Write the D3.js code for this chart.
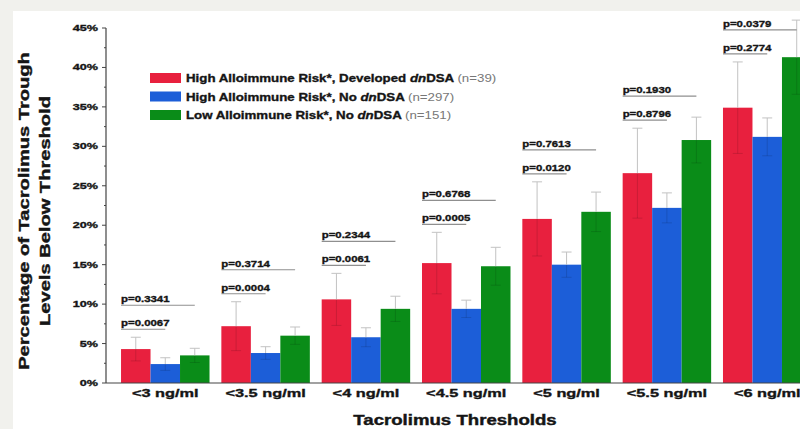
<!DOCTYPE html>
<html>
<head>
<meta charset="utf-8">
<script src="https://cdn.jsdelivr.net/npm/d3@7"></script>
<style>
  html, body { margin: 0; padding: 0; background: #f1f1ed; }
  svg { display: block; }
  text { font-family: "Liberation Sans", Arial, sans-serif; }
</style>
</head>
<body>
<svg id="chart" width="800" height="429"></svg>
<script>
// Tacrolimus threshold categories
const categories = ["<3 ng/ml", "<3.5 ng/ml", "<4 ng/ml", "<4.5 ng/ml", "<5 ng/ml", "<5.5 ng/ml", "<6 ng/ml"];

// Mean % of trough levels below each threshold
const developedDnDSA = [4.3, 7.2, 10.6, 15.2, 20.8, 26.6, 34.9];
const highRiskNoDSA  = [2.4, 3.8, 5.8, 9.4, 15.0, 22.2, 31.2];
const lowRiskNoDSA   = [3.5, 6.0, 9.4, 14.8, 21.7, 30.8, 41.3];

// Standard errors
const developedErr = [1.5, 3.1, 3.3, 3.9, 4.7, 5.7, 5.8];
const highRiskErr  = [0.8, 0.8, 1.2, 1.1, 1.6, 1.9, 2.4];
const lowRiskErr   = [0.9, 1.1, 1.6, 2.4, 2.5, 2.9, 4.7];

// p-values: three-group comparison (upper) and high-risk dnDSA vs no dnDSA (lower)
const pThreeGroup = ["0.3341", "0.3714", "0.2344", "0.6768", "0.7613", "0.1930", "0.0379"];
const pHighRisk   = ["0.0067", "0.0004", "0.0061", "0.0005", "0.0120", "0.8796", "0.2774"];

// Axis ticks
const yTicks = [0, 5, 10, 15, 20, 25, 30, 35, 40, 45];
const yMinorTicks = [2.5, 7.5, 12.5, 17.5, 22.5, 27.5, 32.5, 37.5, 42.5];

const seriesNames = ["dev", "high", "low"];
const seriesColors = ["#e8203e", "#1c5ed8", "#0a8c18"];
const legendMain = ["High Alloimmune Risk*, Developed ", "High Alloimmune Risk*, No ", "Low Alloimmune Risk*, No "];
const legendN = ["(n=39)", "(n=297)", "(n=151)"];

const svg = d3.select("#chart");

// white plotting panel
svg.append("rect").attr("x", 13).attr("y", 11).attr("width", 800).attr("height", 430).attr("fill", "#ffffff");

const x = d3.scaleBand().domain(categories).range([111, 821.5]).paddingInner(0.118).paddingOuter(0.1);
const xs = d3.scaleBand().domain(seriesNames).range([0, x.bandwidth()]);
const y = d3.scaleLinear().domain([0, 45]).range([383, 28]);

const rows = categories.map((c, i) => ({
  cat: c,
  vals: [
    { s: "dev",  v: developedDnDSA[i], e: developedErr[i] },
    { s: "high", v: highRiskNoDSA[i],  e: highRiskErr[i] },
    { s: "low",  v: lowRiskNoDSA[i],   e: lowRiskErr[i] }
  ],
  p3: pThreeGroup[i],
  p2: pHighRisk[i]
}));

// helper: horizontally widened, heavy text
function wideText(g, str, tx, ty, sx, opts) {
  const fill = opts.fill || "#151515";
  return g.append("text")
    .attr("transform", `translate(${tx},${ty}) scale(${sx},1)`)
    .attr("text-anchor", opts.anchor || "start")
    .attr("font-size", opts.size)
    .attr("font-weight", opts.weight || "bold")
    .attr("fill", fill)
    .attr("stroke", fill)
    .attr("stroke-width", opts.stroke == null ? 0.35 : opts.stroke)
    .text(str);
}

// bars
const groups = svg.append("g").selectAll("g").data(rows).join("g")
  .attr("transform", d => `translate(${x(d.cat)},0)`);

groups.selectAll("rect").data(d => d.vals).join("rect")
  .attr("x", d => xs(d.s))
  .attr("y", d => y(d.v))
  .attr("width", xs.bandwidth())
  .attr("height", d => y(0) - y(d.v))
  .attr("fill", (d, i) => seriesColors[i]);

// error bars: upper half light grey above the bar, lower half faint inside it
const cx = d => xs(d.s) + xs.bandwidth() / 2;
const eb = groups.selectAll("g.err").data(d => d.vals).join("g").attr("class", "err")
  .attr("stroke-width", 1);
eb.append("line").attr("stroke", "#c2c2c2")
  .attr("x1", cx).attr("x2", cx).attr("y1", d => y(d.v)).attr("y2", d => y(d.v + d.e));
eb.append("line").attr("stroke", "#c2c2c2")
  .attr("x1", d => cx(d) - 5).attr("x2", d => cx(d) + 5)
  .attr("y1", d => y(d.v + d.e)).attr("y2", d => y(d.v + d.e));
eb.append("line").attr("stroke", "rgba(0,0,0,0.13)")
  .attr("x1", cx).attr("x2", cx).attr("y1", d => y(d.v - d.e)).attr("y2", d => y(d.v));
eb.append("line").attr("stroke", "rgba(0,0,0,0.13)")
  .attr("x1", d => cx(d) - 5).attr("x2", d => cx(d) + 5)
  .attr("y1", d => y(d.v - d.e)).attr("y2", d => y(d.v - d.e));

// p-value brackets above the red bars
groups.each(function (d) {
  const g = d3.select(this);
  const red = d.vals[0];
  const lowY = y(red.v + red.e) - 8;
  const upY = lowY - 24;
  const cBlue = xs("high") + xs.bandwidth() / 2;
  const cGreen = xs("low") + xs.bandwidth() / 2;
  g.append("line").attr("x1", 0).attr("x2", cGreen).attr("y1", upY).attr("y2", upY)
    .attr("stroke", "#8f8f8f").attr("stroke-width", 1.2);
  g.append("line").attr("x1", 0).attr("x2", cBlue).attr("y1", lowY).attr("y2", lowY)
    .attr("stroke", "#8f8f8f").attr("stroke-width", 1.2);
  wideText(g, "p=" + d.p3, 0, upY - 3, 1.2, { size: 9.5 });
  wideText(g, "p=" + d.p2, 0, lowY - 3, 1.2, { size: 9.5 });
});

// y axis
const yAxis = svg.append("g");
yAxis.append("line").attr("x1", 106).attr("x2", 106).attr("y1", y(0)).attr("y2", y(45))
  .attr("stroke", "#444").attr("stroke-width", 1.2);
yAxis.selectAll("line.major").data(yTicks).join("line").attr("class", "major")
  .attr("x1", 102).attr("x2", 106).attr("y1", d => y(d)).attr("y2", d => y(d))
  .attr("stroke", "#444");
yAxis.selectAll("line.minor").data(yMinorTicks).join("line").attr("class", "minor")
  .attr("x1", 104).attr("x2", 106).attr("y1", d => y(d)).attr("y2", d => y(d))
  .attr("stroke", "#444");
yTicks.forEach(t => wideText(yAxis, t + "%", 98, y(t) + 3, 1.4, { size: 9 }).attr("text-anchor", "end"));

// x axis baseline and category labels
svg.append("line").attr("x1", 106).attr("x2", 800).attr("y1", y(0)).attr("y2", y(0))
  .attr("stroke", "#444").attr("stroke-width", 1.2);
const xl = svg.append("g");
categories.forEach(c => wideText(xl, c, x(c) + x.bandwidth() / 2, 397, 1.42, { size: 11.5, anchor: "middle" }));

// axis titles
wideText(svg, "Tacrolimus Thresholds", 455, 425, 1.33, { size: 14, anchor: "middle", stroke: 0.4 });
[["Percentage of Tacrolimus Trough", 29], ["Levels Below Threshold", 50]].forEach(([s, bx]) => {
  svg.append("text")
    .attr("transform", `translate(${bx},211) rotate(-90) scale(1.34,1)`)
    .attr("text-anchor", "middle").attr("font-size", 15).attr("font-weight", "bold")
    .attr("fill", "#151515").attr("stroke", "#151515").attr("stroke-width", 0.4).text(s);
});

// legend
const lg = svg.append("g");
const legendY = [78, 96.5, 115];
seriesNames.forEach((s, i) => {
  lg.append("rect").attr("x", 150).attr("y", legendY[i] - 5).attr("width", 31).attr("height", 10)
    .attr("fill", seriesColors[i]);
  const t = wideText(lg, "", 186, legendY[i] + 4, 1.21, { size: 11 });
  t.append("tspan").text(legendMain[i]);
  t.append("tspan").attr("font-style", "italic").text("dn");
  t.append("tspan").text("DSA ");
  t.append("tspan").attr("font-weight", "normal").attr("fill", "#777").attr("stroke", "none").text(legendN[i]);
});
</script>
</body>
</html>
